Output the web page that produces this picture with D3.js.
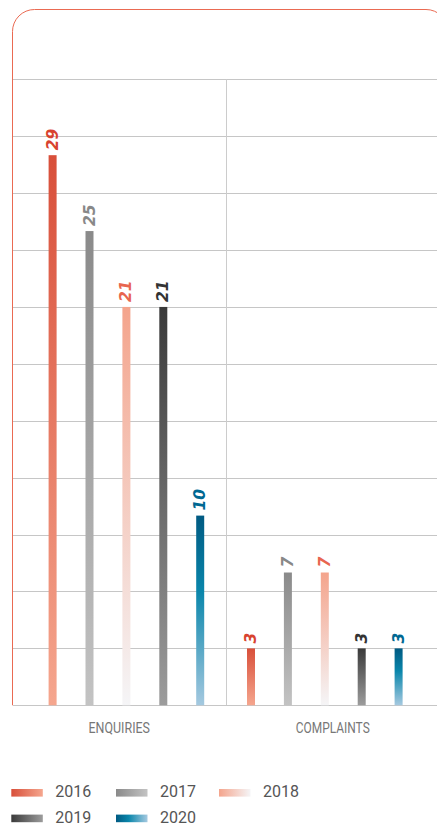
<!DOCTYPE html>
<html>
<head>
<meta charset="utf-8">
<script src="https://cdn.jsdelivr.net/npm/d3@7"></script>
<style>
  html, body { margin: 0; padding: 0; background: #fff; }
  svg { display: block; }
</style>
</head>
<body>
<svg id="chart" width="437" height="825"></svg>
<script>
// ---- data ----
const categories = ["ENQUIRIES", "COMPLAINTS"];
const years = ["2016", "2017", "2018", "2019", "2020"];
const values2016 = [29, 3];
const values2017 = [25, 7];
const values2018 = [21, 7];
const values2019 = [21, 3];
const values2020 = [10, 3];
const gridValues = [0, 3, 6, 9, 12, 15, 18, 21, 24, 27, 30, 33];

const seriesValues = [values2016, values2017, values2018, values2019, values2020];

(function () {
// ---- styles ----
const gradStops = {
  "2016": [["0%", "#d84f3a"], ["100%", "#f5a68e"]],
  "2017": [["0%", "#8a8a8a"], ["100%", "#c3c3c3"]],
  "2018": [["0%", "#f4a48c"], ["100%", "#f5f5f7"]],
  "2019": [["0%", "#3a3a3a"], ["100%", "#9c9c9c"]],
  "2020": [["0%", "#005a82"], ["40%", "#0a86ab"], ["100%", "#a5c9e0"]]
};
const labelColor = {
  "2016": "#d8432f", "2017": "#888888", "2018": "#e8664f", "2019": "#333333", "2020": "#006892"
};

const svg = d3.select("#chart");
const defs = svg.append("defs");

years.forEach(yr => {
  const gv = defs.append("linearGradient").attr("id", "gv" + yr)
    .attr("x1", 0).attr("y1", 0).attr("x2", 0).attr("y2", 1);
  gradStops[yr].forEach(s => gv.append("stop").attr("offset", s[0]).attr("stop-color", s[1]));
  const gh = defs.append("linearGradient").attr("id", "gh" + yr)
    .attr("x1", 0).attr("y1", 0).attr("x2", 1).attr("y2", 0);
  gradStops[yr].forEach(s => gh.append("stop").attr("offset", s[0]).attr("stop-color", s[1]));
});

// ---- scales ----
const plotLeft = 12.5, plotRight = 439.5, plotBottom = 705.3, plotTop = 79.3;
const y = d3.scaleLinear().domain([0, 33]).range([plotBottom, plotTop]);
const xBand = d3.scaleBand().domain(categories).range([plotLeft, plotRight]);
const xGroup = d3.scalePoint().domain(categories).range([126.4, 324.8]);
const xInner = d3.scalePoint().domain(years).range([-73.8, 73.8]);
const barW = 8;

// ---- frame ----
const r = 22;
svg.append("path")
  .attr("d", `M${plotLeft},${plotBottom} L${plotLeft},${9.5 + r} A${r},${r} 0 0 1 ${plotLeft + r},9.5 L${448 - r},9.5 A${r},${r} 0 0 1 448,${9.5 + r} L448,${plotBottom}`)
  .attr("fill", "none").attr("stroke", "#ea6a52").attr("stroke-width", 1);

// ---- grid ----
svg.append("g").selectAll("line").data(gridValues).join("line")
  .attr("x1", plotLeft + 0.5).attr("x2", 437)
  .attr("y1", d => Math.round(y(d)) + 0.5).attr("y2", d => Math.round(y(d)) + 0.5)
  .attr("stroke", "#c6c6c6").attr("stroke-width", 1);

svg.append("line")
  .attr("x1", Math.round(xBand("COMPLAINTS")) + 0.5).attr("x2", Math.round(xBand("COMPLAINTS")) + 0.5)
  .attr("y1", y(33)).attr("y2", y(0))
  .attr("stroke", "#cccccc").attr("stroke-width", 1);

// ---- bars ----
const barData = [];
categories.forEach((c, ci) => {
  years.forEach((yr, yi) => {
    barData.push({ cat: c, year: yr, value: seriesValues[yi][ci] });
  });
});

const gBars = svg.append("g");
gBars.selectAll("rect").data(barData).join("rect")
  .attr("x", d => xGroup(d.cat) + xInner(d.year) - barW / 2)
  .attr("y", d => y(d.value))
  .attr("width", barW)
  .attr("height", d => y(0) - y(d.value))
  .attr("fill", d => `url(#gv${d.year})`);

gBars.selectAll("text").data(barData).join("text")
  .attr("transform", d => `translate(${xGroup(d.cat) + xInner(d.year) - 0.5},${y(d.value) - 5}) rotate(-90)`)
  .attr("text-anchor", "start")
  .attr("dy", "0.36em")
  .attr("font-family", "DejaVu Sans, sans-serif")
  .attr("font-weight", "bold")
  .attr("font-style", "italic")
  .attr("font-size", 15.5)
  .attr("fill", d => labelColor[d.year])
  .text(d => d.value);

// ---- category labels ----
const catWidth = { "ENQUIRIES": 61.5, "COMPLAINTS": 74 };
svg.append("g").selectAll("text").data(categories).join("text")
  .attr("x", d => xBand(d) + xBand.bandwidth() / 2)
  .attr("y", 732.7)
  .attr("text-anchor", "middle")
  .attr("font-family", "Roboto, sans-serif")
  .attr("font-size", 14.5)
  .attr("textLength", d => catWidth[d])
  .attr("lengthAdjust", "spacingAndGlyphs")
  .attr("fill", "#777777")
  .text(d => d);

// ---- legend ----
const legendCols = [11.3, 116, 219];
const legend = svg.append("g");
years.forEach((yr, i) => {
  const col = i % 3, row = Math.floor(i / 3);
  const lx = legendCols[col], ly = 789 + row * 25.6;
  legend.append("rect")
    .attr("x", lx).attr("y", ly).attr("width", 31.5).attr("height", 7.6)
    .attr("fill", `url(#gh${yr})`);
  legend.append("text")
    .attr("x", lx + 44).attr("y", ly + 8.2)
    .attr("font-family", "Roboto, sans-serif")
    .attr("font-size", 16)
    .attr("fill", "#555555")
    .text(yr);
});
})();
</script>
</body>
</html>
